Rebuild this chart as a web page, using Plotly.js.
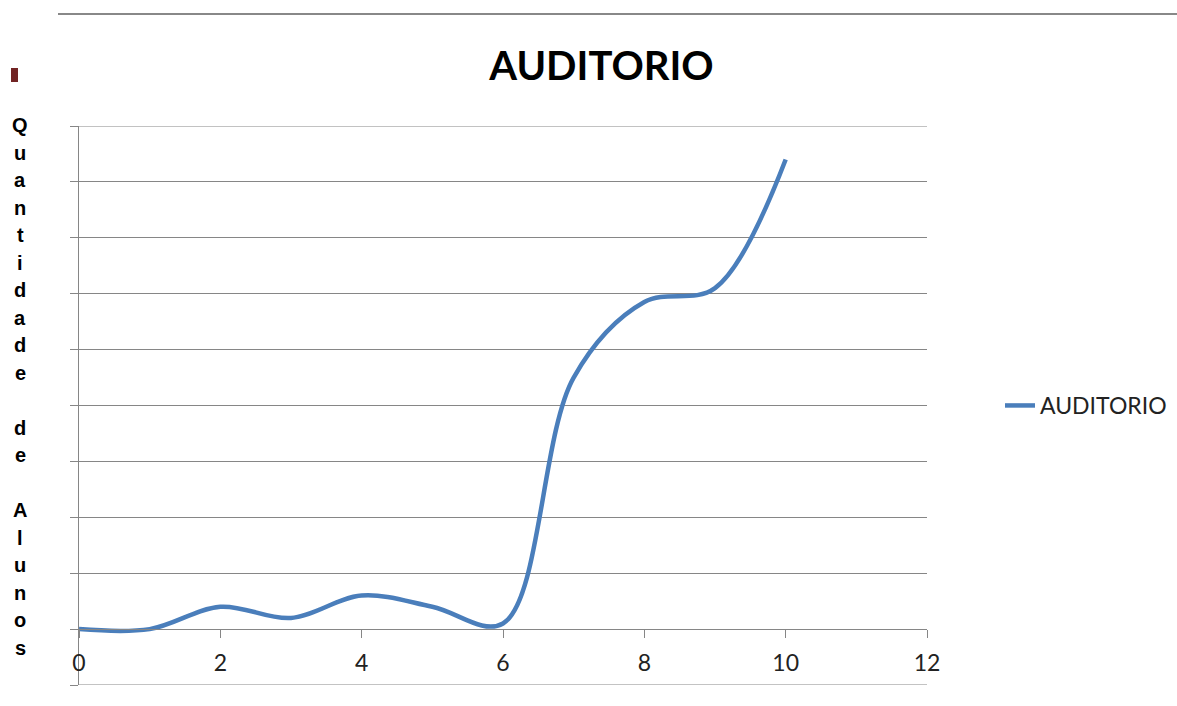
<!DOCTYPE html>
<html>
<head>
<meta charset="utf-8">
<script src="https://cdn.plot.ly/plotly-3.0.1.min.js"></script>
<style>
html,body{margin:0;padding:0;background:#fff;}
#chart{width:1177px;height:706px;}
</style>
</head>
<body>
<div id="chart"></div>
<script>
// Data
const xValues = [0, 1, 2, 3, 4, 5, 6, 7, 8, 9, 10];
const auditorio = [0, 0, 4, 2, 6, 4, 1, 45, 58.5, 61, 84];
const seriesName = 'AUDITORIO';
const chartTitle = 'AUDITORIO';
const yTitle = 'Quantidade de Alunos';
const xTicks = [0, 2, 4, 6, 8, 10, 12];
const yRange = [-10, 90];

// Layout geometry (pixels)
const W = 1177, H = 706;
const L = 79, R = 250, T = 126, B = 21;
const plotW = W - L - R, plotH = H - T - B;
const px2x = p => (p - L) / plotW;
const py2y = p => (H - B - p) / plotH;

const annotations = [];
const chars = Array.from(yTitle);
chars.forEach((c, i) => {
  if (c === ' ') return;
  annotations.push({
    text: c, xref: 'paper', yref: 'paper',
    x: px2x(20), y: py2y(125 + i * 27.5),
    xanchor: 'center', yanchor: 'middle', showarrow: false,
    font: {family: 'Liberation Sans, Arial, sans-serif', size: 20, color: '#000', weight: 'bold'}
  });
});

const trace = {
  x: xValues, y: auditorio, name: seriesName,
  type: 'scatter', mode: 'lines',
  line: {color: '#4a7ebb', width: 4.5, shape: 'spline', smoothing: 1},
  hoverinfo: 'x+y'
};

const gridEdge = v => ({type: 'line', xref: 'paper', yref: 'y', layer: 'below',
  x0: 0, x1: 1, y0: v, y1: v, line: {color: '#868686', width: 1}});

const layout = {
  width: W, height: H,
  margin: {l: L, r: R, t: T, b: B, pad: 0},
  paper_bgcolor: '#fff', plot_bgcolor: '#fff',
  showlegend: true,
  title: {
    text: '<b>' + chartTitle + '</b>',
    font: {family: 'Lato, sans-serif', size: 40, color: '#000'},
    xref: 'container', x: 601.5 / W, xanchor: 'center',
    yref: 'container', y: 1 - 66 / H, yanchor: 'middle'
  },
  xaxis: {
    range: [0, 12], tickvals: xTicks, ticktext: xTicks.map(String),
    anchor: 'free', position: 0.1,
    showline: true, linecolor: '#868686', linewidth: 1,
    ticks: 'outside', ticklen: 8, tickcolor: '#868686', tickwidth: 1,
    ticklabelstandoff: 5,
    showgrid: false, zeroline: false,
    tickfont: {family: 'Lato, sans-serif', size: 23, color: '#222'},
    fixedrange: true
  },
  yaxis: {
    range: yRange, dtick: 10, tick0: 0,
    showline: true, linecolor: '#868686', linewidth: 1,
    ticks: 'outside', ticklen: 8, tickcolor: '#868686', tickwidth: 1,
    showgrid: true, gridcolor: '#868686', gridwidth: 1,
    zeroline: false, showticklabels: false,
    fixedrange: true
  },
  legend: {
    xref: 'container', yref: 'paper',
    x: 1000 / W, y: 0.5, xanchor: 'left', yanchor: 'middle',
    font: {family: 'Lato, sans-serif', size: 23, color: '#222'},
    bgcolor: 'rgba(0,0,0,0)'
  },
  shapes: [
    gridEdge(yRange[0]), gridEdge(yRange[1]),
    {type: 'line', xref: 'paper', yref: 'paper',
     x0: px2x(58), x1: px2x(1177), y0: py2y(14), y1: py2y(14),
     line: {color: '#888888', width: 2}},
    {type: 'rect', xref: 'paper', yref: 'paper',
     x0: px2x(11), x1: px2x(18), y0: py2y(82), y1: py2y(68),
     fillcolor: '#722424', line: {width: 0}}
  ],
  annotations: annotations
};

Plotly.newPlot('chart', [trace], layout, {displayModeBar: false, staticPlot: true});
</script>
</body>
</html>
